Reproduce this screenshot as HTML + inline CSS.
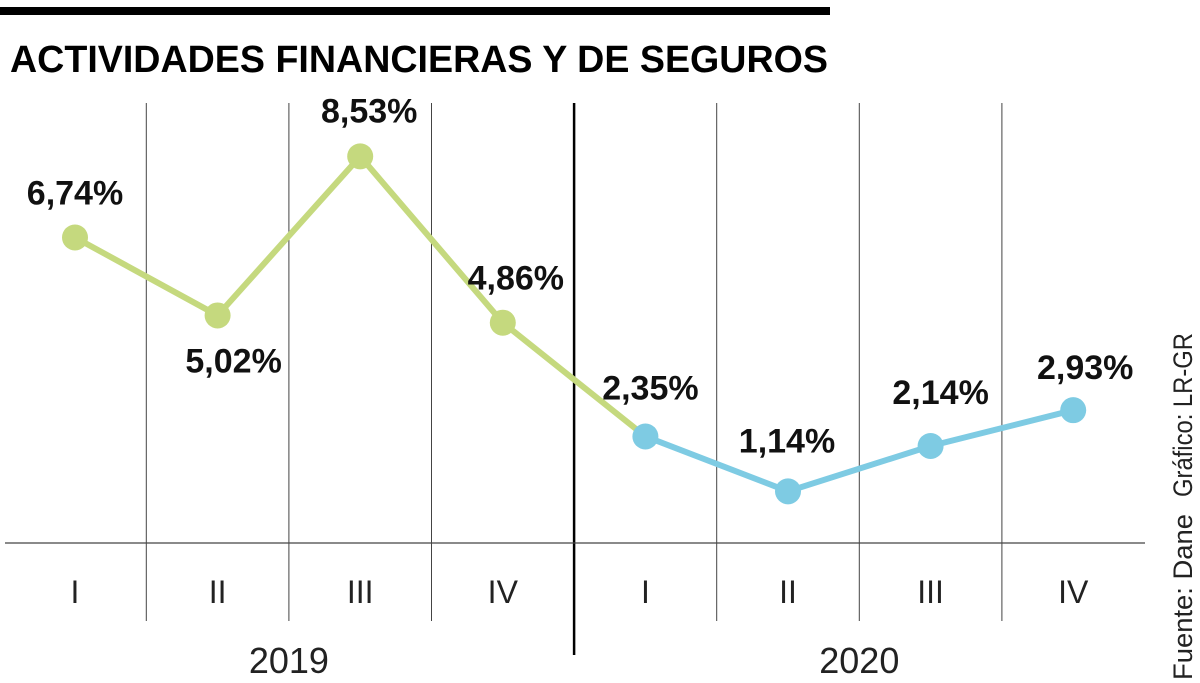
<!DOCTYPE html>
<html><head><meta charset="utf-8"><style>
html,body{margin:0;padding:0;background:#fff;width:1200px;height:683px;overflow:hidden}
svg{display:block}
text{font-family:"Liberation Sans",sans-serif}
</style></head><body>
<svg id="chart" width="1200" height="683" viewBox="0 0 1200 683">
<rect x="0" y="7" width="830" height="8" fill="#000"/>
<text x="10" y="72" font-size="38" font-weight="bold" textLength="818" lengthAdjust="spacingAndGlyphs">ACTIVIDADES FINANCIERAS Y DE SEGUROS</text>
<g id="grid"></g>
<line x1="5" y1="543" x2="1145" y2="543" stroke="#444" stroke-width="1.3"/>
<g id="marks"></g>
<text transform="translate(1192,680) rotate(-90)" font-size="27" fill="#222" textLength="166" lengthAdjust="spacingAndGlyphs">Fuente: Dane</text>
<text transform="translate(1192,497) rotate(-90)" font-size="27" fill="#222" textLength="164" lengthAdjust="spacingAndGlyphs">Gráfico: LR-GR</text>
</svg>
<script>
const categories=["I","II","III","IV","I","II","III","IV"];
const years=["2019","2020"];
const values=[6.74,5.02,8.53,4.86,2.35,1.14,2.14,2.93];
const labels=["6,74%","5,02%","8,53%","4,86%","2,35%","1,14%","2,14%","2,93%"];
const NS="http://www.w3.org/2000/svg";
const xs=i=>75+i*142.6;
const ys=v=>543-v*45.33;
const labelOff=[[0,-45],[16,45],[9,-46],[13,-45],[5,-49],[-1,-51],[10,-54],[12,-43]];
function mk(t,a,p){const e=document.createElementNS(NS,t);for(const k in a)e.setAttribute(k,a[k]);p.appendChild(e);return e;}
const grid=document.getElementById('grid'),marks=document.getElementById('marks');
for(let i=1;i<categories.length;i++){
  const x=(xs(i-1)+xs(i))/2;const mid=i===4;
  const l=mk('line',{x1:x,y1:103,x2:x,y2:mid?655:621,stroke:mid?'#000':'#444','stroke-width':mid?2.5:1},grid);
  
  
}
categories.forEach((c,i)=>{
  const t=mk('text',{x:xs(i),y:603,'font-size':32,'text-anchor':'middle',fill:'#222'},grid);
  t.textContent=c;
  
  
});
years.forEach((y,j)=>{
  const t=mk('text',{x:(xs(j*4)+xs(j*4+3))/2,y:673,'font-size':36,'text-anchor':'middle',fill:'#222'},grid);
  t.textContent=y;
  
  
});
const g=[],b=[];
values.forEach((v,i)=>{if(i<=4)g.push(xs(i)+','+ys(v));if(i>=4)b.push(xs(i)+','+ys(v));});
const pg=mk('polyline',{points:g.join(' '),fill:'none',stroke:'#c5d97e','stroke-width':6},marks);


const pb=mk('polyline',{points:b.join(' '),fill:'none',stroke:'#7ecbe3','stroke-width':6},marks);


values.forEach((v,i)=>{
  const c=mk('circle',{cx:xs(i),cy:ys(v),r:13,fill:i<4?'#c5d97e':'#7ecbe3'},marks);
  
  
  const t=mk('text',{x:xs(i)+labelOff[i][0],y:ys(v)+labelOff[i][1]+12,'font-size':34,'font-weight':'bold','text-anchor':'middle',fill:'#111'},marks);
  t.textContent=labels[i];
  
  
});
</script>
</body></html>
